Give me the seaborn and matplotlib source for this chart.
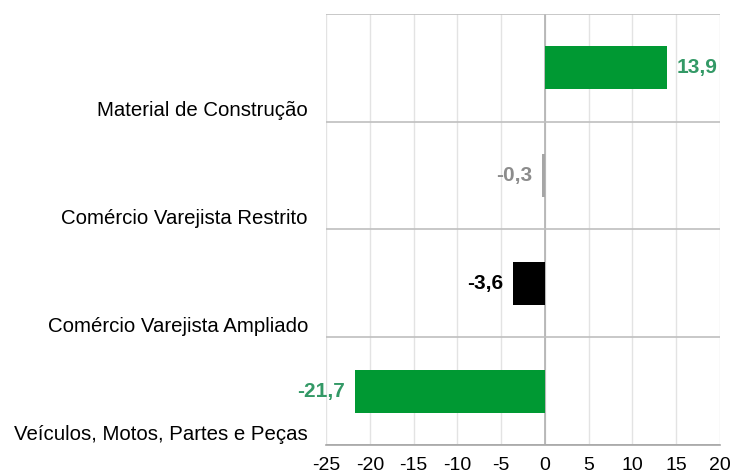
import matplotlib
matplotlib.use("Agg")
import matplotlib.pyplot as plt
import seaborn as sns
import pandas as pd

categories = ["Material de Construção", "Comércio Varejista Restrito",
              "Comércio Varejista Ampliado", "Veículos, Motos, Partes e Peças"]
values = [13.9, -0.3, -3.6, -21.7]
bar_colors = ["#009933", "#a6a6a6", "#000000", "#009933"]
label_colors = ["#339966", "#8c8c8c", "#000000", "#339966"]
label_texts = ["13,9", "-0,3", "-3,6", "-21,7"]
xticks = [-25, -20, -15, -10, -5, 0, 5, 10, 15, 20]

sns.set_theme(style="white")
plt.rcParams['font.family'] = ['Liberation Sans', 'DejaVu Sans']

df = pd.DataFrame({"cat": categories, "val": values})

fig = plt.figure(figsize=(7.45, 4.70), dpi=100)
ax = fig.add_axes([326/745, 1-445/470, (720-326)/745, (445-14)/470])

sns.barplot(data=df, x="val", y="cat", hue="cat", palette=bar_colors,
            orient="h", width=0.4, legend=False, ax=ax, saturation=1,
            linewidth=0, zorder=3)

ax.set_xlim(-25, 20)
ax.set_ylim(3.5, -0.5)
ax.set_xticks(xticks)
ax.set_xticklabels([str(t) for t in xticks], fontsize=14, color="#000000")
ax.set_xlabel("")
ax.set_ylabel("")

# category labels near bottom of each band
ax.set_yticks([i + 0.38 for i in range(len(categories))])
ax.set_yticklabels(categories, fontsize=14.7, color="#000000")
ax.tick_params(axis="y", length=0, pad=13)
ax.tick_params(axis="x", length=5, width=1, color="#a6a6a6", pad=4, direction="out")

# grid lines
for t in xticks:
    ax.axvline(t, color="#e3e3e3", lw=1, zorder=0)
ax.axvline(0, color="#b0b0b0", lw=1.2, zorder=0.5)
for b in [-0.5, 0.5, 1.5, 2.5, 3.5]:
    ax.axhline(b, color="#bfbfbf", lw=1.2, zorder=0.5)

for s in ["top", "right", "left"]:
    ax.spines[s].set_visible(False)
ax.spines["bottom"].set_color("#a6a6a6")
ax.spines["bottom"].set_linewidth(1.2)

for i, (v, txt, c) in enumerate(zip(values, label_texts, label_colors)):
    if v >= 0:
        ax.annotate(txt, (v, i), xytext=(7, 0), textcoords="offset points",
                    ha="left", va="center", fontsize=15, fontweight="bold", color=c)
    else:
        ax.annotate(txt, (v, i), xytext=(-7.5, 0), textcoords="offset points",
                    ha="right", va="center", fontsize=15, fontweight="bold", color=c)

fig.savefig("out.png", dpi=100)
